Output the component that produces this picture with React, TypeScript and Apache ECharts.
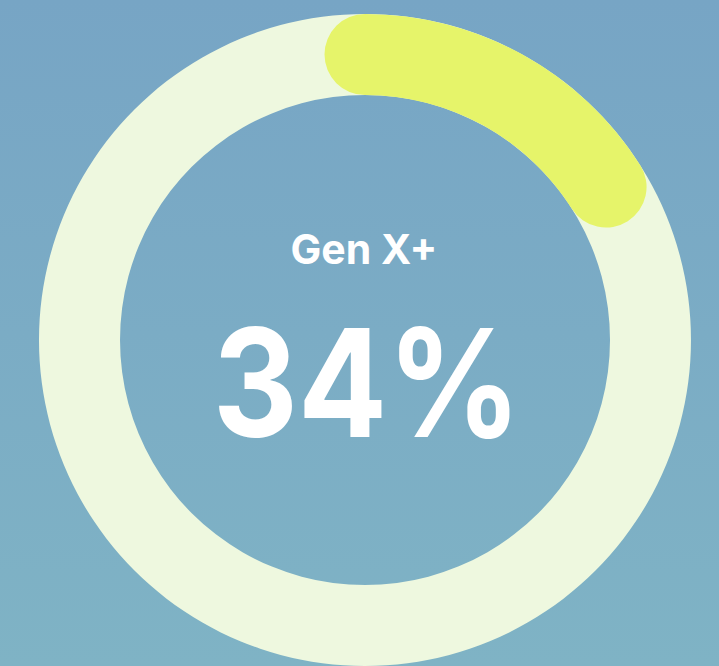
import React, { useEffect, useRef } from "react";
import * as echarts from "echarts";

const categoryLabel = ["Gen X+"];
const displayValue = [34];
const arcValue = [16];
const scaleRange = [0, 100];

export default function App() {
  const ref = useRef<HTMLDivElement>(null);
  useEffect(() => {
    document.body.style.margin = "0";
    const chart = echarts.init(ref.current!, undefined, { renderer: "svg" });
    chart.setOption({
      animation: false,
      backgroundColor: new echarts.graphic.LinearGradient(0, 0, 0, 1, [
        { offset: 0, color: "#77a5c5" },
        { offset: 1, color: "#7fb3c5" },
      ]),
      series: [
        {
          type: "gauge",
          center: [365, 340],
          radius: 326,
          startAngle: 90,
          endAngle: -270,
          min: scaleRange[0],
          max: scaleRange[1],
          axisLine: { roundCap: false, lineStyle: { width: 81, color: [[1, "#eef8df"]] } },
          progress: { show: true, roundCap: true, width: 81, itemStyle: { color: "#e6f46a" } },
          pointer: { show: false },
          axisTick: { show: false },
          splitLine: { show: false },
          axisLabel: { show: false },
          detail: { show: false },
          title: { show: false },
          data: [{ value: arcValue[0], name: categoryLabel[0] }],
        },
      ],
      graphic: [
        {
          type: "text",
          x: 364,
          y: 249,
          style: {
            text: categoryLabel[0],
            fill: "#ffffff",
            font: "700 41px Inter",
            align: "center",
            verticalAlign: "middle",
          },
        },
        {
          type: "text",
          x: 367,
          y: 382,
          scaleX: 0.88,
          style: {
            text: displayValue[0] + "%",
            fill: "#ffffff",
            font: "700 150px Inter",
            align: "center",
            verticalAlign: "middle",
          },
        },
      ],
    });
    return () => chart.dispose();
  }, []);
  return <div ref={ref} style={{ width: 719, height: 666 }} />;
}
